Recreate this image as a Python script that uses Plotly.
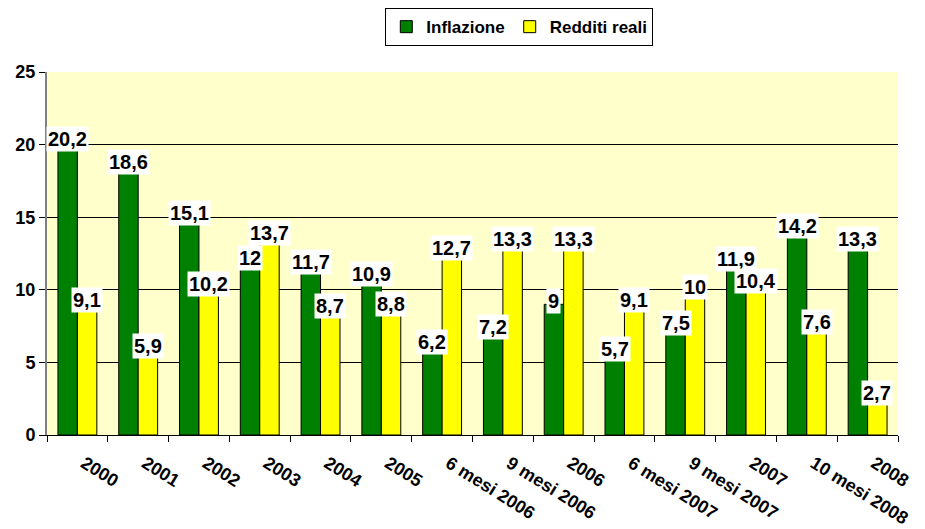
import plotly.graph_objects as go

categories = ["2000", "2001", "2002", "2003", "2004", "2005", "6 mesi 2006", "9 mesi 2006",
              "2006", "6 mesi 2007", "9 mesi 2007", "2007", "10 mesi 2008", "2008"]
inflazione = [20.2, 18.6, 15.1, 12, 11.7, 10.9, 6.2, 7.2, 9, 5.7, 7.5, 11.9, 14.2, 13.3]
redditi = [9.1, 5.9, 10.2, 13.7, 8.7, 8.8, 12.7, 13.3, 13.3, 9.1, 10, 10.4, 7.6, 2.7]
y_ticks = [0, 5, 10, 15, 20, 25]

FONT = "Liberation Sans, Arial, sans-serif"
BARGAP = 0.36

def fmt(v):
    s = ("%g" % v)
    return s.replace(".", ",")

x = list(range(len(categories)))

fig = go.Figure()
fig.add_trace(go.Bar(x=x, y=inflazione, name="Inflazione",
                     marker=dict(color="#008000", line=dict(color="black", width=1))))
fig.add_trace(go.Bar(x=x, y=redditi, name="Redditi reali",
                     marker=dict(color="#FFFF00", line=dict(color="black", width=1))))

half = (1 - BARGAP) / 4
label_font = dict(family=FONT, size=20, color="black", weight="bold")
annotations = []
for i, v in enumerate(inflazione):
    annotations.append(dict(x=i - half, y=v, text=fmt(v), showarrow=False,
                            xref="x", yref="y", yanchor="middle", yshift=3,
                            bgcolor="white", borderpad=1, font=label_font))
for i, v in enumerate(redditi):
    annotations.append(dict(x=i + half, y=v, text=fmt(v), showarrow=False,
                            xref="x", yref="y", yanchor="middle", yshift=3,
                            bgcolor="white", borderpad=1, font=label_font))

fig.update_layout(
    width=925, height=529,
    margin=dict(l=47, r=27, t=72, b=94, autoexpand=False),
    paper_bgcolor="white",
    plot_bgcolor="#FFFFCC",
    barmode="group",
    bargap=BARGAP,
    bargroupgap=0,
    font=dict(family=FONT, color="black"),
    showlegend=True,
    legend=dict(orientation="h", x=0.555, xanchor="center", y=1.176, yanchor="top",
                bordercolor="black", borderwidth=1, bgcolor="white",
                font=dict(family=FONT, size=17, weight="bold"),
                itemwidth=30, traceorder="normal"),
    annotations=annotations,
)
fig.update_xaxes(
    range=[-0.5, len(categories) - 0.5],
    tickmode="array", tickvals=x, ticktext=categories,
    tickangle=32, ticks="",
    tickfont=dict(family=FONT, size=18, weight="bold"),
    ticklabelstandoff=10, ticklabelshift=7,
    showline=True, linecolor="black", linewidth=1,
    showgrid=False, zeroline=False,
    minor=dict(ticks="outside", tick0=-0.5, dtick=1, ticklen=6, tickcolor="black", showgrid=False),
)
fig.update_yaxes(
    range=[0, 25], tickvals=y_ticks,
    ticks="outside", ticklen=6, tickcolor="black",
    tickfont=dict(family=FONT, size=18, weight="bold"),
    showline=True, linecolor="#808080", linewidth=2,
    showgrid=True, gridcolor="black", gridwidth=1,
    zeroline=False,
)

fig.write_html("out.html", post_script="document.body.style.margin='0';",
               config={"displayModeBar": False})
